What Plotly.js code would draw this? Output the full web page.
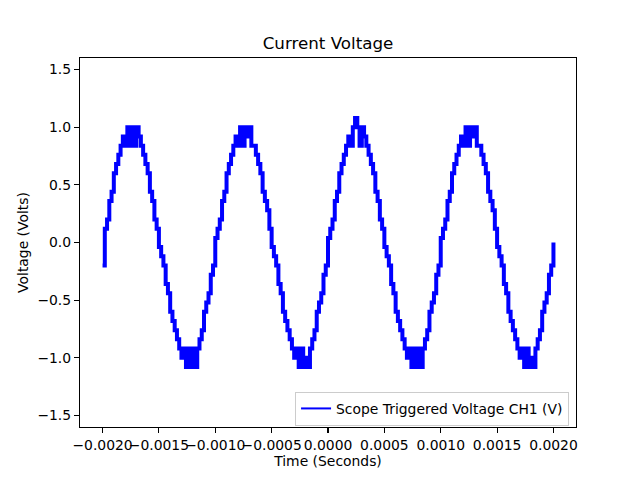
<!DOCTYPE html>
<html>
<head>
<meta charset="utf-8">
<script src="https://cdn.plot.ly/plotly-3.0.1.min.js"></script>
<style>
  html, body { margin: 0; padding: 0; background: #fff; }
  #chart { width: 640px; height: 480px; }
</style>
</head>
<body>
<div id="chart"></div>
<script>
// scope capture, time in microseconds (20 us per sample)
var timeUs = [
  -2000,-1980,-1960,-1940,-1920,-1900,-1880,-1860,-1840,-1820,
  -1800,-1780,-1760,-1740,-1720,-1700,-1680,-1660,-1640,-1620,
  -1600,-1580,-1560,-1540,-1520,-1500,-1480,-1460,-1440,-1420,
  -1400,-1380,-1360,-1340,-1320,-1300,-1280,-1260,-1240,-1220,
  -1200,-1180,-1160,-1140,-1120,-1100,-1080,-1060,-1040,-1020,
  -1000,-980,-960,-940,-920,-900,-880,-860,-840,-820,
  -800,-780,-760,-740,-720,-700,-680,-660,-640,-620,
  -600,-580,-560,-540,-520,-500,-480,-460,-440,-420,
  -400,-380,-360,-340,-320,-300,-280,-260,-240,-220,
  -200,-180,-160,-140,-120,-100,-80,-60,-40,-20,
  0,20,40,60,80,100,120,140,160,180,
  200,220,240,260,280,300,320,340,360,380,
  400,420,440,460,480,500,520,540,560,580,
  600,620,640,660,680,700,720,740,760,780,
  800,820,840,860,880,900,920,940,960,980,
  1000,1020,1040,1060,1080,1100,1120,1140,1160,1180,
  1200,1220,1240,1260,1280,1300,1320,1340,1360,1380,
  1400,1420,1440,1460,1480,1500,1520,1540,1560,1580,
  1600,1620,1640,1660,1680,1700,1720,1740,1760,1780,
  1800,1820,1840,1860,1880,1900,1920,1940,1960,1980,
  2000
];

// CH1 voltage readings (V), 8-bit steps of 0.08 V
var voltageCh1 = [
  -0.20,0.12,0.20,0.36,0.44,0.60,0.68,0.76,0.84,0.92,
  0.84,1.00,0.84,1.00,0.84,1.00,0.92,0.84,0.76,0.68,
  0.60,0.44,0.36,0.20,0.12,-0.04,-0.12,-0.20,-0.36,-0.44,
  -0.60,-0.68,-0.76,-0.84,-0.92,-1.00,-0.92,-1.08,-0.92,-1.08,
  -0.92,-1.08,-0.92,-0.84,-0.76,-0.60,-0.52,-0.44,-0.28,-0.20,
  0.04,0.12,0.20,0.36,0.44,0.60,0.68,0.76,0.84,0.92,
  0.84,1.00,0.84,1.00,0.92,1.00,0.84,0.84,0.76,0.68,
  0.60,0.44,0.36,0.28,0.12,-0.04,-0.12,-0.20,-0.36,-0.44,
  -0.60,-0.68,-0.76,-0.84,-0.92,-1.00,-0.92,-1.08,-0.92,-1.08,
  -1.00,-1.08,-0.92,-0.84,-0.76,-0.60,-0.52,-0.44,-0.28,-0.20,
  0.04,0.12,0.20,0.36,0.44,0.60,0.68,0.76,0.84,0.92,
  0.84,1.00,1.08,1.00,0.84,1.00,0.92,0.84,0.76,0.68,
  0.60,0.44,0.36,0.20,0.12,-0.04,-0.12,-0.20,-0.36,-0.44,
  -0.60,-0.68,-0.76,-0.84,-0.92,-1.00,-0.92,-1.08,-0.92,-1.08,
  -0.92,-1.08,-0.92,-0.84,-0.76,-0.60,-0.52,-0.44,-0.28,-0.20,
  0.04,0.12,0.20,0.36,0.44,0.60,0.68,0.76,0.84,0.92,
  0.84,1.00,0.84,1.00,0.92,1.00,0.84,0.84,0.76,0.68,
  0.60,0.44,0.36,0.28,0.12,-0.04,-0.12,-0.20,-0.36,-0.44,
  -0.60,-0.68,-0.76,-0.84,-0.92,-1.00,-0.92,-1.08,-0.92,-1.08,
  -1.00,-1.08,-0.92,-0.84,-0.76,-0.60,-0.52,-0.44,-0.28,-0.20,
  0.00
];

var seriesName = 'Scope Triggered Voltage CH1 (V)';

var xTickVals = [-0.002, -0.0015, -0.001, -0.0005, 0, 0.0005, 0.001, 0.0015, 0.002];
var xTickText = ['\u22120.0020', '\u22120.0015', '\u22120.0010', '\u22120.0005', '0.0000', '0.0005', '0.0010', '0.0015', '0.0020'];
var yTickVals = [-1.5, -1.0, -0.5, 0, 0.5, 1.0, 1.5];
var yTickText = ['\u22121.5', '\u22121.0', '\u22120.5', '0.0', '0.5', '1.0', '1.5'];

var timeSec = timeUs.map(function (t) { return t * 1e-6; });

var data = [
    {
        type: 'scatter',
        mode: 'lines',
        x: timeSec,
        y: voltageCh1,
        name: seriesName,
        showlegend: false,
        line: { color: '#0000ff', width: 4, shape: 'hv' }
    },
    // legend entry only, drawn with the thin matplotlib-style handle
    {
        type: 'scatter',
        mode: 'lines',
        x: [null],
        y: [null],
        name: seriesName,
        line: { color: '#0000ff', width: 2 }
    }
];

var font = { family: 'DejaVu Sans', size: 13.9, color: '#000' };

var layout = {
    width: 640,
    height: 480,
    margin: { l: 80, r: 64, t: 58, b: 53 },
    paper_bgcolor: '#fff',
    plot_bgcolor: '#fff',
    font: font,
    showlegend: true,
    title: {
        text: 'Current Voltage',
        font: { family: 'DejaVu Sans', size: 16.7, color: '#000' },
        x: 0.5125, xanchor: 'center',
        y: 0.91, yanchor: 'middle'
    },
    xaxis: {
        range: [-0.0022, 0.0022],
        tickvals: xTickVals,
        ticktext: xTickText,
        tickangle: 0,
        ticks: 'outside', ticklen: 5, tickwidth: 1.1, tickcolor: '#000',
        showline: true, linecolor: '#000', linewidth: 1.1, mirror: true,
        showgrid: false, zeroline: false,
        title: { text: 'Time (Seconds)', font: font, standoff: 4 }
    },
    yaxis: {
        range: [-1.6, 1.6],
        tickvals: yTickVals,
        ticktext: yTickText,
        ticks: 'outside', ticklen: 5, tickwidth: 1.1, tickcolor: '#000',
        showline: true, linecolor: '#000', linewidth: 1.1, mirror: true,
        showgrid: false, zeroline: false,
        title: { text: 'Voltage (Volts)', font: font, standoff: 5 }
    },
    legend: {
        x: 0.986, xanchor: 'right',
        y: 0.003, yanchor: 'bottom',
        itemwidth: 30,
        bgcolor: 'rgba(255,255,255,0.8)',
        bordercolor: '#cccccc', borderwidth: 1,
        font: font
    }
};

Plotly.newPlot('chart', data, layout, { displayModeBar: false, staticPlot: true });
</script>
</body>
</html>
